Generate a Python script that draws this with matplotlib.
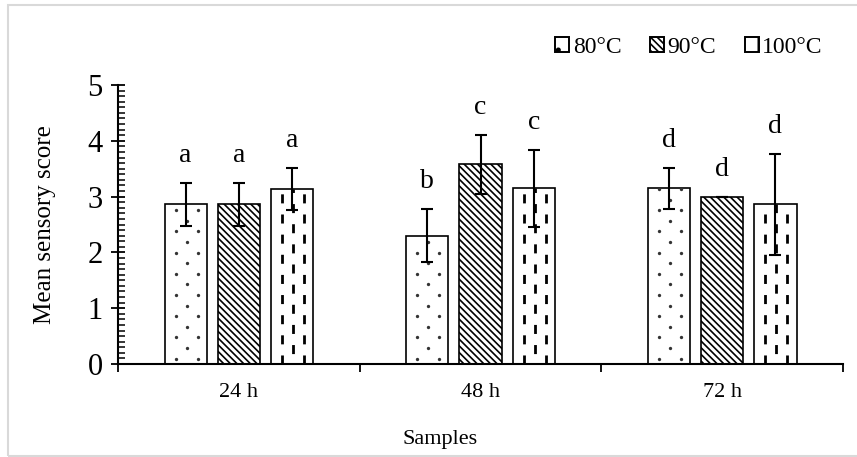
import matplotlib.pyplot as plt
import numpy as np
from matplotlib.patches import Rectangle, Patch

plt.rcParams['font.family'] = ['Liberation Serif', 'DejaVu Serif']
plt.rcParams['hatch.linewidth'] = 1.2
plt.rcParams['lines.scale_dashes'] = False

samples = ["24 h", "48 h", "72 h"]
temps = ["80°C", "90°C", "100°C"]
means_80 = [2.86, 2.30, 3.15]
means_90 = [2.86, 3.58, 3.00]
means_100 = [3.14, 3.15, 2.86]
sd_80 = [0.38, 0.48, 0.37]
sd_90 = [0.38, 0.53, 0.0]
sd_100 = [0.38, 0.69, 0.90]
letters_80 = ["a", "b", "d"]
letters_90 = ["a", "c", "d"]
letters_100 = ["a", "c", "d"]


def dots(ax, bar):
    # sparse staggered dot texture, clipped to the bar
    step = 0.19
    y = step / 2
    row = 0
    while y < bar.get_height():
        fr = [0.26, 0.78] if row % 2 == 0 else [0.52]
        for f in fr:
            pt, = ax.plot(bar.get_x() + f * bar.get_width(), y, 'o', ms=2.4,
                          color='#333333', mew=0, zorder=3)
            pt.set_clip_path(bar)
        y += step
        row += 1


def dashes(ax, bar):
    # vertical dashed texture, middle column shifted
    for k, f in enumerate([0.26, 0.52, 0.78]):
        xx = bar.get_x() + f * bar.get_width()
        off = 7.0 if k == 1 else 0.0
        ln, = ax.plot([xx, xx], [0, bar.get_height()], color='black',
                      lw=2.0, zorder=3, linestyle=(off, (6.5, 8.0)))
        ln.set_clip_path(bar)


def main():
    fig = plt.figure(figsize=(8.57, 4.57), dpi=100)
    ax = fig.add_axes([0.1377, 0.2035, 0.846, 0.6105])

    x = np.arange(len(samples))
    width = 0.175
    offsets = [-0.22, 0.0, 0.22]
    hatches = ['', '\\\\\\\\\\', '']
    series = [
        (means_80, sd_80, letters_80),
        (means_90, sd_90, letters_90),
        (means_100, sd_100, letters_100),
    ]

    for i, (m, s, lab) in enumerate(series):
        bars = ax.bar(x + offsets[i], m, width, color='white', edgecolor='black',
                      linewidth=1.2, hatch=hatches[i], zorder=2)
        ax.errorbar(x + offsets[i], m, yerr=s, fmt='none', ecolor='black',
                    elinewidth=1.5, capsize=4.3, capthick=1.5, zorder=4)
        for xi, mi, si, li in zip(x + offsets[i], m, s, lab):
            ax.text(xi, mi + si + 0.27, li, ha='center', va='bottom', fontsize=20)
        for b in bars:
            if i == 0:
                dots(ax, b)
            elif i == 2:
                dashes(ax, b)

    ax.set_ylim(0, 5)
    ax.set_xlim(-0.5, 2.5)
    ax.set_yticks(range(6))
    ax.set_yticks(np.arange(0, 5.01, 0.1), minor=True)
    ax.tick_params(axis='y', which='major', direction='inout', length=10,
                   width=1.3, labelsize=22, pad=6)
    ax.tick_params(axis='y', which='minor', direction='in', length=5, width=1.1)

    ax.set_xticks([-0.5, 0.5, 1.5, 2.5])
    ax.set_xticklabels([])
    ax.set_xticks(x, minor=True)
    ax.set_xticklabels(samples, minor=True)
    ax.tick_params(axis='x', which='major', direction='out', length=6, width=1.3)
    ax.tick_params(axis='x', which='minor', length=0, labelsize=16, pad=14)

    for side in ['top', 'right']:
        ax.spines[side].set_visible(False)
    for side in ['left', 'bottom']:
        ax.spines[side].set_linewidth(1.5)

    ax.set_ylabel("Mean sensory score", fontsize=18)
    ax.yaxis.set_label_coords(-0.085, 0.5)
    ax.set_xlabel("Samples", fontsize=16)
    ax.xaxis.set_label_coords((440 - 118) / 725, -0.235)

    handles = [
        Patch(facecolor='white', edgecolor='black', hatch='.', lw=1.4),
        Patch(facecolor='white', edgecolor='black', hatch='\\\\\\\\\\', lw=1.4),
        Patch(facecolor='white', edgecolor='black', hatch='|', lw=1.4),
    ]
    ax.legend(handles=handles, labels=temps, loc='center right',
              bbox_to_anchor=(0.985, 1.136), ncol=3, frameon=False, fontsize=17,
              handlelength=0.6, handleheight=0.6, handletextpad=0.15,
              columnspacing=1.2, borderaxespad=0)

    fig.patches.append(Rectangle((8 / 857, 1 / 457), 1.2, 1 - 6 / 457,
                                 transform=fig.transFigure, fill=False,
                                 edgecolor='#d9d9d9', linewidth=1.5))

    fig.savefig("out.png", dpi=100)


if __name__ == "__main__":
    main()
